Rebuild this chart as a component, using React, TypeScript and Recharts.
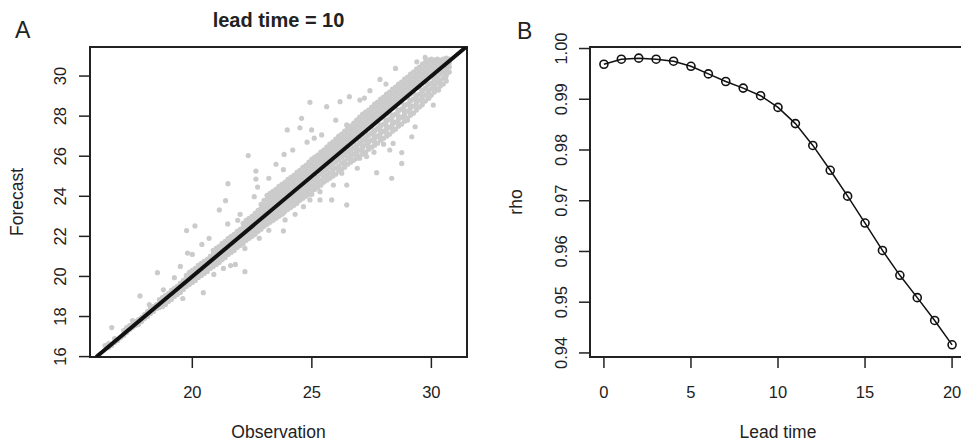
import React from "react";
import {
  ScatterChart,
  Scatter,
  LineChart,
  Line,
  XAxis,
  YAxis,
  ReferenceArea,
} from "recharts";

// panel B: correlation by lead time
const leadTimes = [0, 1, 2, 3, 4, 5, 6, 7, 8, 9, 10, 11, 12, 13, 14, 15, 16, 17, 18, 19, 20];
const rhoValues = [
  0.9969, 0.9979, 0.9981, 0.9979, 0.9975, 0.9965, 0.995, 0.9935, 0.9922, 0.9907, 0.9884,
  0.9852, 0.9809, 0.976, 0.9709, 0.9656, 0.9602, 0.9553, 0.9509, 0.9464, 0.9416,
];
const rhoTicks = [0.94, 0.95, 0.96, 0.97, 0.98, 0.99, 1.0];
const leadTicks = [0, 5, 10, 15, 20];

// panel A: dense band of forecasts along the diagonal (read column by column)
const bandObs = [
  16.5, 16.75, 17.0, 17.25, 17.5, 17.75, 18.0, 18.25, 18.5, 18.75, 19.0, 19.25, 19.5, 19.75,
  20.0, 20.25, 20.5, 20.75, 21.0, 21.25, 21.5, 21.75, 22.0, 22.25, 22.5, 22.75, 23.0, 23.25,
  23.5, 23.75, 24.0, 24.25, 24.5, 24.75, 25.0, 25.25, 25.5, 25.75, 26.0, 26.25, 26.5, 26.75,
  27.0, 27.25, 27.5, 27.75, 28.0, 28.25, 28.5, 28.75, 29.0, 29.25, 29.5, 29.75, 30.0, 30.25,
  30.5, 30.75,
];
const bandFcst = [
  [16.45, 16.65],
  [16.7, 16.9],
  [16.95],
  [17.2, 17.45],
  [17.45, 17.6, 17.8],
  [17.6, 17.85],
  [17.9, 18.1],
  [18.15, 18.4],
  [18.4, 18.6],
  [18.5, 18.7, 18.95],
  [18.75, 18.95, 19.15],
  [19.0, 19.2, 19.4],
  [19.2, 19.45, 19.65],
  [19.5, 19.7, 19.9, 20.05],
  [19.7, 19.9, 20.1, 20.3],
  [19.95, 20.15, 20.35, 20.55],
  [20.15, 20.35, 20.55, 20.75],
  [20.4, 20.6, 20.8, 21.0],
  [20.6, 20.8, 21.0, 21.2, 21.4],
  [20.85, 21.05, 21.25, 21.45, 21.65],
  [21.1, 21.3, 21.5, 21.7, 21.9],
  [21.3, 21.5, 21.7, 21.9, 22.1],
  [21.55, 21.75, 21.95, 22.15, 22.35],
  [21.8, 22.0, 22.2, 22.4, 22.6, 22.8],
  [22.0, 22.2, 22.4, 22.6, 22.8, 23.0],
  [22.25, 22.45, 22.65, 22.85, 23.05, 23.3],
  [22.5, 22.7, 22.9, 23.1, 23.3, 23.55, 23.8],
  [22.7, 22.9, 23.1, 23.3, 23.5, 23.7, 23.95, 24.15],
  [22.9, 23.1, 23.3, 23.5, 23.7, 23.9, 24.1, 24.35],
  [23.1, 23.35, 23.55, 23.75, 23.95, 24.15, 24.35, 24.6],
  [23.35, 23.55, 23.8, 24.0, 24.2, 24.4, 24.6, 24.85],
  [23.55, 23.8, 24.0, 24.25, 24.45, 24.65, 24.85, 25.05],
  [23.8, 24.0, 24.25, 24.5, 24.7, 24.9, 25.1, 25.3],
  [24.0, 24.25, 24.5, 24.75, 24.95, 25.15, 25.35, 25.55],
  [24.25, 24.5, 24.75, 25.0, 25.2, 25.4, 25.6, 25.85],
  [24.45, 24.7, 24.95, 25.25, 25.45, 25.65, 25.85, 26.05],
  [24.7, 24.95, 25.2, 25.5, 25.7, 25.9, 26.1, 26.3],
  [24.9, 25.15, 25.45, 25.75, 25.95, 26.15, 26.35, 26.6],
  [25.1, 25.4, 25.7, 26.0, 26.2, 26.4, 26.6, 26.85],
  [25.35, 25.65, 25.95, 26.25, 26.45, 26.65, 26.9, 27.1],
  [25.6, 25.9, 26.2, 26.5, 26.7, 26.9, 27.15, 27.4],
  [25.8, 26.1, 26.4, 26.75, 26.95, 27.2, 27.4, 27.65],
  [26.0, 26.3, 26.65, 27.0, 27.2, 27.45, 27.7, 27.95],
  [26.2, 26.55, 26.9, 27.25, 27.45, 27.7, 27.95, 28.2],
  [26.45, 26.8, 27.15, 27.5, 27.7, 27.95, 28.2, 28.45],
  [26.65, 27.0, 27.4, 27.75, 27.95, 28.2, 28.45, 28.7],
  [26.9, 27.25, 27.6, 28.0, 28.2, 28.45, 28.7, 28.95],
  [27.1, 27.45, 27.85, 28.25, 28.45, 28.7, 28.95, 29.2],
  [27.35, 27.7, 28.1, 28.5, 28.7, 28.95, 29.2, 29.45],
  [27.6, 27.95, 28.35, 28.75, 28.95, 29.2, 29.45, 29.7],
  [27.9, 28.25, 28.6, 29.0, 29.2, 29.45, 29.7, 29.95],
  [28.15, 28.5, 28.85, 29.25, 29.45, 29.7, 29.95, 30.2],
  [28.45, 28.8, 29.1, 29.5, 29.7, 29.95, 30.2, 30.45],
  [28.75, 29.05, 29.4, 29.75, 29.95, 30.2, 30.45, 30.7],
  [29.05, 29.35, 29.65, 30.0, 30.2, 30.45, 30.7, 30.85],
  [29.35, 29.65, 29.95, 30.25, 30.45, 30.7, 30.85],
  [29.6, 29.9, 30.2, 30.5, 30.7, 30.85],
  [30.2, 30.45, 30.65, 30.85],
];

// panel A: second, staggered set of band columns
const bandObs2 = [
  16.625, 16.875, 17.125, 17.375, 17.625, 17.875, 18.125, 18.375, 18.625, 18.875, 19.125,
  19.375, 19.625, 19.875, 20.125, 20.375, 20.625, 20.875, 21.125, 21.375, 21.625, 21.875,
  22.125, 22.375, 22.625, 22.875, 23.125, 23.375, 23.625, 23.875, 24.125, 24.375, 24.625,
  24.875, 25.125, 25.375, 25.625, 25.875, 26.125, 26.375, 26.625, 26.875, 27.125, 27.375,
  27.625, 27.875, 28.125, 28.375, 28.625, 28.875, 29.125, 29.375, 29.625, 29.875, 30.125,
  30.375, 30.625,
];
const bandFcst2 = [
  [16.55],
  [16.8],
  [17.05, 17.3],
  [17.35, 17.55],
  [17.55, 17.75],
  [17.75, 17.95],
  [18.0, 18.25],
  [18.25, 18.5],
  [18.45, 18.65, 18.85],
  [18.6, 18.85, 19.05],
  [18.85, 19.05, 19.3],
  [19.1, 19.3, 19.5],
  [19.35, 19.55, 19.8],
  [19.6, 19.8, 20.0, 20.2],
  [19.8, 20.0, 20.2, 20.4],
  [20.05, 20.25, 20.45, 20.65],
  [20.25, 20.45, 20.65, 20.85],
  [20.5, 20.7, 20.9, 21.1, 21.3],
  [20.7, 20.9, 21.1, 21.3, 21.5],
  [20.95, 21.15, 21.35, 21.55, 21.75],
  [21.2, 21.4, 21.6, 21.8, 22.0],
  [21.45, 21.65, 21.85, 22.05, 22.25],
  [21.65, 21.85, 22.05, 22.25, 22.45, 22.65],
  [21.9, 22.1, 22.3, 22.5, 22.7, 22.9],
  [22.1, 22.3, 22.5, 22.7, 22.9, 23.15],
  [22.35, 22.55, 22.75, 22.95, 23.15, 23.4, 23.6],
  [22.6, 22.8, 23.0, 23.2, 23.4, 23.6, 23.85, 24.05],
  [22.8, 23.0, 23.2, 23.4, 23.6, 23.8, 24.0, 24.25],
  [23.0, 23.2, 23.45, 23.65, 23.85, 24.05, 24.25, 24.5],
  [23.25, 23.45, 23.65, 23.85, 24.05, 24.3, 24.5, 24.7],
  [23.45, 23.7, 23.9, 24.1, 24.3, 24.55, 24.75, 24.95],
  [23.65, 23.9, 24.1, 24.35, 24.55, 24.8, 25.0, 25.2],
  [23.9, 24.15, 24.35, 24.6, 24.8, 25.0, 25.2, 25.45],
  [24.1, 24.35, 24.6, 24.85, 25.05, 25.25, 25.5, 25.7],
  [24.35, 24.6, 24.85, 25.1, 25.3, 25.5, 25.75, 25.95],
  [24.55, 24.8, 25.1, 25.35, 25.55, 25.75, 26.0, 26.2],
  [24.8, 25.05, 25.3, 25.6, 25.8, 26.0, 26.25, 26.45],
  [25.0, 25.3, 25.55, 25.85, 26.05, 26.25, 26.5, 26.7],
  [25.25, 25.5, 25.8, 26.1, 26.3, 26.55, 26.75, 27.0],
  [25.45, 25.75, 26.05, 26.35, 26.55, 26.8, 27.0, 27.25],
  [25.7, 26.0, 26.3, 26.6, 26.85, 27.05, 27.3, 27.5],
  [25.9, 26.2, 26.5, 26.85, 27.1, 27.3, 27.55, 27.8],
  [26.1, 26.45, 26.8, 27.1, 27.35, 27.6, 27.85, 28.1],
  [26.35, 26.7, 27.05, 27.4, 27.6, 27.85, 28.1, 28.3],
  [26.55, 26.9, 27.25, 27.65, 27.85, 28.1, 28.35, 28.6],
  [26.8, 27.15, 27.5, 27.9, 28.1, 28.35, 28.6, 28.85],
  [27.0, 27.35, 27.75, 28.1, 28.35, 28.6, 28.85, 29.1],
  [27.25, 27.6, 28.0, 28.4, 28.6, 28.85, 29.1, 29.35],
  [27.5, 27.85, 28.25, 28.65, 28.85, 29.1, 29.35, 29.6],
  [27.75, 28.1, 28.5, 28.9, 29.1, 29.35, 29.6, 29.85],
  [28.05, 28.4, 28.75, 29.1, 29.35, 29.6, 29.85, 30.1],
  [28.3, 28.65, 29.0, 29.4, 29.6, 29.85, 30.1, 30.35],
  [28.6, 28.95, 29.25, 29.65, 29.85, 30.1, 30.35, 30.6],
  [28.9, 29.2, 29.55, 29.9, 30.1, 30.35, 30.6, 30.8],
  [29.2, 29.5, 29.8, 30.1, 30.35, 30.6, 30.8],
  [29.5, 29.8, 30.1, 30.4, 30.6, 30.8],
  [29.75, 30.05, 30.3, 30.55, 30.75, 30.9],
];

// panel A: extra points filling the lower half of the band on the warm side
const bandObs3 = [
  25.6, 25.85, 26.1, 26.35, 26.6, 26.85, 27.1, 27.35, 27.6, 27.85, 28.1, 28.35, 28.6, 28.85,
  29.1, 29.35, 29.6, 29.85, 30.1, 30.35, 30.6,
];
const bandFcst3 = [
  [24.95, 25.35],
  [25.2, 25.6],
  [25.4, 25.85],
  [25.6, 26.1],
  [25.85, 26.03, 26.3],
  [26.05, 26.28, 26.55],
  [26.3, 26.53, 26.8],
  [26.5, 26.78, 27.05],
  [26.75, 27.03, 27.3],
  [26.95, 27.28, 27.55],
  [27.2, 27.53, 27.8],
  [27.4, 27.78, 28.05],
  [27.65, 28.03, 28.3],
  [27.9, 28.28, 28.55],
  [28.2, 28.53, 28.8],
  [28.5, 28.78, 29.05],
  [28.8, 29.03, 29.3],
  [29.1, 29.28, 29.6],
  [29.4, 29.53, 29.9],
  [29.65, 29.78, 30.15],
  [29.9, 30.03, 30.4],
];

// panel A: scattered points away from the band [observation, forecast]
const outliers = [
  [16.35, 16.55], [16.63, 17.45], [17.81, 19.03], [18.2, 18.6], [18.54, 20.19], [18.79, 19.33],
  [19.25, 19.94], [19.5, 20.5], [19.76, 22.29], [19.8, 21.16], [20.0, 21.1], [20.11, 22.52],
  [20.4, 21.6], [20.7, 21.9], [21.13, 23.32], [21.39, 23.78], [21.48, 22.62], [21.49, 24.63],
  [21.9, 22.8], [22.0, 23.1], [22.34, 26.03], [22.59, 23.98], [22.66, 25.26], [22.66, 24.86],
  [22.73, 24.46], [23.2, 24.9], [23.5, 25.6], [23.81, 25.33], [23.84, 26.09], [23.97, 27.31],
  [24.2, 26.31], [24.5, 27.42], [24.57, 27.89], [24.8, 26.7], [24.92, 28.69], [24.99, 27.31],
  [25.1, 26.9], [25.41, 27.06], [25.62, 28.47], [26.0, 27.8], [26.18, 28.72], [26.46, 27.56],
  [26.57, 28.97], [27.01, 28.8], [27.2, 28.9], [27.43, 29.27], [27.85, 29.83], [28.1, 29.6],
  [28.5, 30.38], [29.39, 30.71], [29.74, 30.93],
  [19.6, 18.9], [20.46, 19.19], [20.9, 20.1], [21.3, 20.4], [21.6, 20.54], [21.8, 20.6],
  [22.2, 21.4], [22.2, 20.24], [22.8, 21.9], [23.2, 22.3], [23.8, 23.15], [23.81, 22.27],
  [23.88, 22.82], [24.3, 23.1], [24.65, 23.48], [24.92, 23.82], [25.0, 24.1], [25.34, 23.82],
  [25.34, 24.23], [25.83, 23.82], [25.9, 24.56], [26.25, 25.15], [26.46, 23.57], [26.46, 24.56],
  [26.9, 25.4], [27.0, 25.9], [27.2, 26.8], [27.29, 25.98], [27.6, 26.2], [27.71, 25.18],
  [28.0, 26.6], [28.26, 26.31], [28.34, 24.9], [28.4, 26.64], [28.76, 25.64], [28.76, 26.18],
  [29.0, 27.8], [29.18, 26.97], [29.32, 27.47], [29.6, 28.55], [29.9, 28.9], [30.08, 28.55],
  [30.3, 29.3],
];

// the y = x reference line, end to end across the box
const diagonal = [
  [15.98, 15.98],
  [31.45, 31.45],
];

const obsTicks = [20, 25, 30];
const fcstTicks = [16, 18, 20, 22, 24, 26, 28, 30];
const obsDomain = [15.72, 31.49];
const fcstDomain = [15.98, 31.45];
const leadDomain = [-0.8, 20.8];
const rhoDomain = [0.9392, 1.0003];

const FONT = '"Liberation Sans", Arial, Helvetica, sans-serif';
const INK = "#222";

const scatterData = [
  ...bandObs.flatMap((x, i) => bandFcst[i].map((y) => ({ x, y }))),
  ...bandObs2.flatMap((x, i) => bandFcst2[i].map((y) => ({ x, y }))),
  ...bandObs3.flatMap((x, i) => bandFcst3[i].map((y) => ({ x, y }))),
  ...outliers.map(([x, y]) => ({ x, y })),
];
const diagonalData = diagonal.map(([x, y]) => ({ x, y }));
const rhoData = leadTimes.map((t, i) => ({ t, rho: rhoValues[i] }));

const GrayDot = (props: any) => {
  const { cx, cy } = props;
  if (cx == null || cy == null) return null;
  return <circle cx={cx} cy={cy} r={2.6} fill="#cbcbcb" />;
};

const NoDot = () => <g />;

const OpenCircle = (props: any) => {
  const { cx, cy } = props;
  if (cx == null || cy == null) return null;
  return <circle cx={cx} cy={cy} r={4} fill="none" stroke="#111" strokeWidth={1.6} />;
};

// R style vertical tick labels
const makeVTick = (digits: number) => (props: any) => {
  const { x, y, payload } = props;
  const label = digits > 0 ? Number(payload.value).toFixed(digits) : String(payload.value);
  return (
    <text
      x={x}
      y={y}
      transform={`rotate(-90 ${x} ${y})`}
      textAnchor="middle"
      fontSize={16.5}
      fontFamily={FONT}
      fill={INK}
    >
      {label}
    </text>
  );
};

const tickStyle = { fontSize: 16.5, fontFamily: FONT, fill: INK };
const tickLine = { stroke: INK, strokeWidth: 1.5 };

export default function App() {
  return (
    <div
      style={{
        position: "absolute",
        left: 0,
        top: 0,
        width: 961,
        height: 444,
        overflow: "hidden",
        background: "#fff",
        fontFamily: FONT,
      }}
    >
      {/* A: scatter */}
      <div style={{ position: "absolute", left: 0, top: 0 }}>
        <ScatterChart width={480} height={444} margin={{ top: 47, right: 13, bottom: 37, left: 50 }}>
          <XAxis
            type="number"
            dataKey="x"
            domain={obsDomain}
            ticks={obsTicks}
            allowDataOverflow
            axisLine={false}
            tickSize={11}
            tickMargin={18}
            tickLine={tickLine}
            tick={tickStyle}
            height={50}
          />
          <YAxis
            type="number"
            dataKey="y"
            domain={fcstDomain}
            ticks={fcstTicks}
            allowDataOverflow
            axisLine={false}
            tickSize={11}
            tickMargin={13}
            tickLine={tickLine}
            tick={makeVTick(0)}
            width={40}
          />
          <Scatter data={scatterData} shape={GrayDot} isAnimationActive={false} />
          <Scatter
            data={diagonalData}
            shape={NoDot}
            line={{ stroke: "#111", strokeWidth: 4 }}
            lineType="joint"
            isAnimationActive={false}
          />
          <ReferenceArea
            x1={obsDomain[0]}
            x2={obsDomain[1]}
            y1={fcstDomain[0]}
            y2={fcstDomain[1]}
            fill="none"
            stroke={INK}
            strokeWidth={2}
            ifOverflow="visible"
          />
        </ScatterChart>
      </div>

      {/* B: rho vs lead time */}
      <div style={{ position: "absolute", left: 480, top: 0 }}>
        <LineChart
          width={490}
          height={444}
          data={rhoData}
          margin={{ top: 47, right: 4, bottom: 37, left: 60 }}
        >
          <XAxis
            type="number"
            dataKey="t"
            domain={leadDomain}
            ticks={leadTicks}
            allowDataOverflow
            axisLine={false}
            tickSize={11}
            tickMargin={18}
            tickLine={tickLine}
            tick={tickStyle}
            height={50}
          />
          <YAxis
            type="number"
            domain={rhoDomain}
            ticks={rhoTicks}
            allowDataOverflow
            axisLine={false}
            tickSize={11}
            tickMargin={12}
            tickLine={tickLine}
            tick={makeVTick(2)}
            width={50}
          />
          <Line
            type="linear"
            dataKey="rho"
            stroke="#111"
            strokeWidth={1.5}
            dot={OpenCircle}
            activeDot={false}
            isAnimationActive={false}
          />
          <ReferenceArea
            x1={leadDomain[0]}
            x2={leadDomain[1]}
            y1={rhoDomain[0]}
            y2={rhoDomain[1]}
            fill="none"
            stroke={INK}
            strokeWidth={2}
            ifOverflow="visible"
          />
        </LineChart>
      </div>

      {/* titles and panel letters */}
      <svg
        width={961}
        height={444}
        style={{ position: "absolute", left: 0, top: 0, pointerEvents: "none" }}
        fontFamily={FONT}
        fill={INK}
      >
        <text x={15} y={38} fontSize={23}>A</text>
        <text x={517} y={39} fontSize={23}>B</text>
        <text x={278.5} y={27} fontSize={20} fontWeight="bold" textAnchor="middle">
          lead time = 10
        </text>
        <text x={278.5} y={438} fontSize={17.5} textAnchor="middle">Observation</text>
        <text x={778} y={438} fontSize={17.5} textAnchor="middle">Lead time</text>
        <text x={23} y={202} fontSize={17.5} textAnchor="middle" transform="rotate(-90 23 202)">
          Forecast
        </text>
        <text x={522} y={202} fontSize={17.5} textAnchor="middle" transform="rotate(-90 522 202)">
          rho
        </text>
      </svg>
    </div>
  );
}
